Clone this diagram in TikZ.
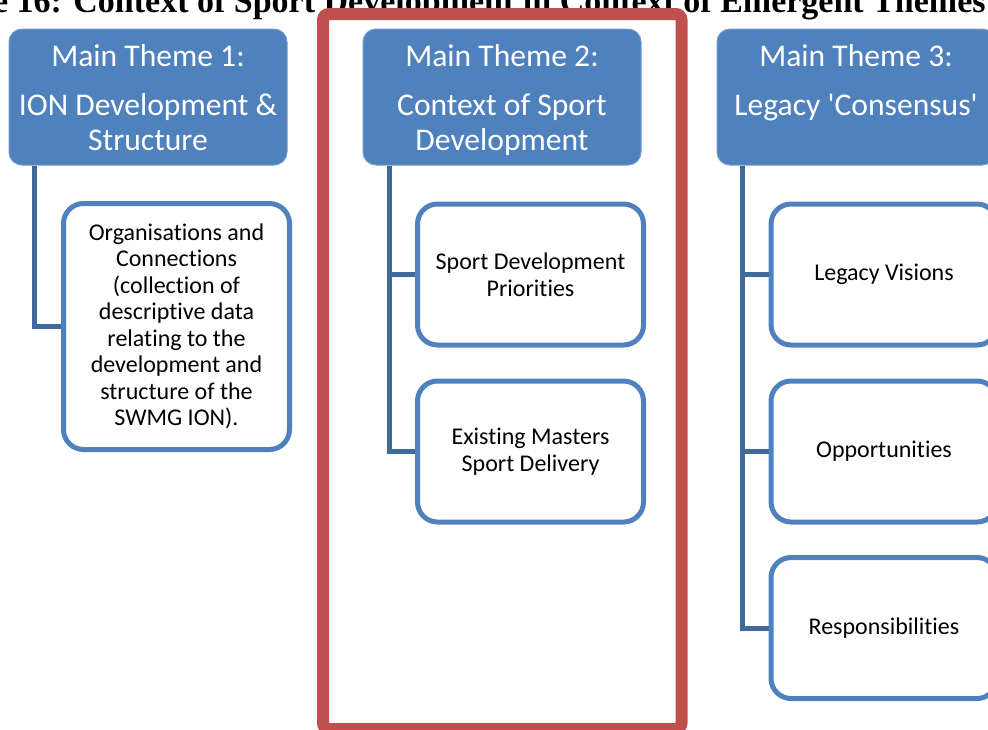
\documentclass[tikz,border=0pt]{standalone}
\usepackage{fontspec}
\setmainfont{Carlito}[Ligatures=NoCommon]
\newfontfamily\captionfont{Liberation Serif}
\usetikzlibrary{positioning}
\definecolor{themeblue}{HTML}{4F81BD}
\definecolor{linkblue}{HTML}{3F6A9C}
\definecolor{framered}{HTML}{C0504D}

\tikzset{
  mainbox/.style={fill=themeblue, draw=themeblue!80!white, line width=0.5pt,
    rounded corners=6.5pt, minimum width=139pt, minimum height=68pt, inner sep=0pt},
  maintext/.style={text=white, align=center, inner sep=0pt,
    font=\fontsize{15.8pt}{17.5pt}\selectfont},
  subbox/.style={draw=themeblue, line width=2.5pt, fill=white, rounded corners=10pt,
    minimum width=113pt, minimum height=70.5pt, inner sep=0pt, align=center,
    font=\fontsize{12pt}{13.25pt}\selectfont},
  link/.style={draw=linkblue, line width=2.5pt},
  redframe/.style={draw=framered, line width=6pt, rounded corners=3pt}
}

\begin{document}
\begin{tikzpicture}[x=0.5pt,y=-0.5pt]
\useasboundingbox (0,0) rectangle (988,729);
\clip (0,0) rectangle (988,729);

\node[anchor=base east, inner sep=0pt,
  font=\captionfont\bfseries\fontsize{17pt}{20pt}\selectfont] (caption) at (986,12.5)
  {Figure 16: Context of Sport Development in Context of Emergent Themes};

\draw[redframe] (323,14) rectangle (681.5,729);

\node[mainbox] (m1) at (148,97) {};
\node[mainbox] (m2) at (502,97) {};
\node[mainbox] (m3) at (856,97) {};

\node[maintext, below=8pt of m1.north] (t1) {Main Theme 1:\\[7pt]ION Development \&\\Structure};
\node[maintext, below=8pt of m2.north] (t2) {Main Theme 2:\\[7pt]Context of Sport\\Development};
\node[maintext, below=8pt of m3.north] (t3) {Main Theme 3:\\[7pt]Legacy \textquotesingle Consensus\textquotesingle};

\node[subbox, minimum height=123pt] (c11) at (176.5,326.5) {Organisations and\\Connections\\(collection of\\descriptive data\\relating to the\\development and\\structure of the\\SWMG ION).};

\node[subbox] (c21) at (530.5,274.5) {Sport Development\\Priorities};
\node[subbox] (c22) at (530.5,451.5) {Existing Masters\\Sport Delivery};

\node[subbox] (c31) at (884,274.5) {Legacy Visions};
\node[subbox] (c32) at (884,451.5) {Opportunities};
\node[subbox] (c33) at (884,628) {Responsibilities};

\draw[link] ([xshift=13pt]m1.south west) |- (c11.west);
\draw[link] ([xshift=13.5pt]m2.south west) |- (c21.west);
\draw[link] ([xshift=13.5pt]m2.south west) |- (c22.west);
\draw[link] ([xshift=13pt]m3.south west) |- (c31.west);
\draw[link] ([xshift=13pt]m3.south west) |- (c32.west);
\draw[link] ([xshift=13pt]m3.south west) |- (c33.west);
\end{tikzpicture}
\end{document}
